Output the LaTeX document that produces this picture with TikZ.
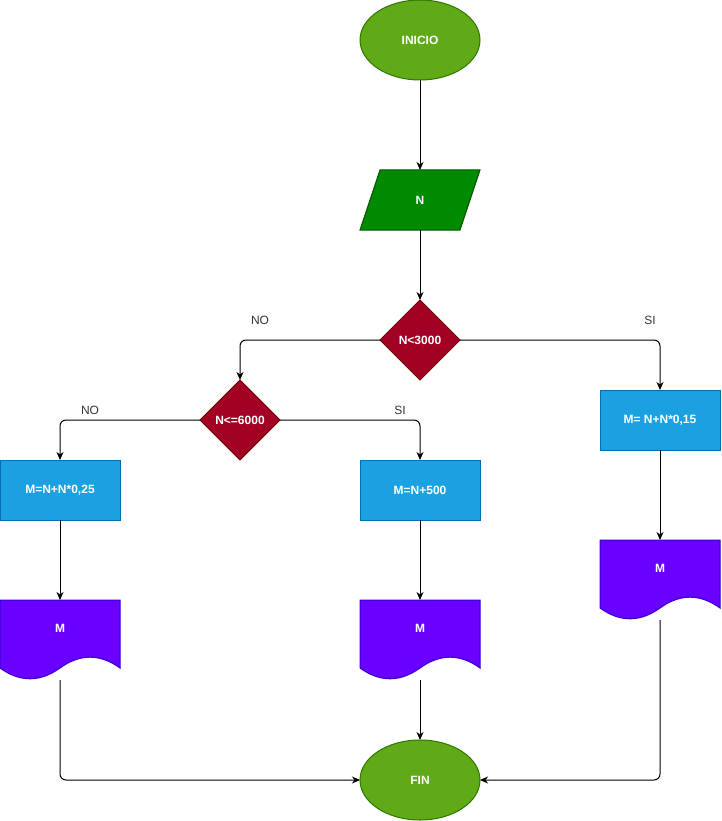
\documentclass[tikz,border=0pt]{standalone}
\usepackage{fontspec}
\setmainfont{Liberation Sans}
\usetikzlibrary{shapes.geometric,arrows.meta}
\definecolor{gfill}{HTML}{60A917}\definecolor{gline}{HTML}{2D7600}
\definecolor{pfill}{HTML}{008A00}\definecolor{pline}{HTML}{005700}
\definecolor{rfill}{HTML}{A20025}\definecolor{rline}{HTML}{6F0000}
\definecolor{bfill}{HTML}{1BA1E2}\definecolor{bline}{HTML}{006EAF}
\definecolor{vfill}{HTML}{6A00FF}\definecolor{vline}{HTML}{3700CC}
\definecolor{lbl}{HTML}{333333}
\tikzset{
  base/.style={inner sep=0pt,outer sep=0pt,line width=1pt,text=white,font=\fontsize{12}{14}\selectfont\bfseries},
  term/.style={base,ellipse,draw=gline,fill=gfill,minimum width=120pt,minimum height=80pt},
  io/.style={base,rectangle,minimum width=120pt,minimum height=60pt},
  dec/.style={base,diamond,draw=rline,fill=rfill,minimum width=80pt,minimum height=80pt},
  proc/.style={base,rectangle,draw=bline,fill=bfill,minimum width=120pt,minimum height=60pt},
  docn/.style={base,rectangle,minimum width=120pt,minimum height=80pt},
  doctext/.style={base},
  arr/.style={line width=1pt,-{Stealth[length=8pt,width=7pt,inset=2.5pt]},rounded corners=6pt},
  elbl/.style={text=lbl,font=\fontsize{12}{14}\selectfont,inner sep=0pt},
}
\newcommand{\docshape}[1]{%
  \fill[vfill,draw=vline,line width=1pt]
    (#1.north west) -- (#1.north east) -- ([yshift=12pt]#1.south east)
    .. controls ([xshift=-20pt,yshift=26.4pt]#1.south east) and ([xshift=20pt,yshift=26.4pt]#1.south) .. ([yshift=12pt]#1.south)
    .. controls ([xshift=-20pt,yshift=-2.4pt]#1.south) and ([xshift=20pt,yshift=-2.4pt]#1.south west) .. ([yshift=12pt]#1.south west) -- cycle;}
\begin{document}
\begin{tikzpicture}[x=1pt,y=-1pt]
\useasboundingbox (0,0) rectangle (721,821);
\node[term] (ini) at (420,40) {INICIO};
\node[io] (n) at (420,200) {};
\fill[pfill,draw=pline,line width=1pt] (380,170) -- (480,170) -- (460,230) -- (360,230) -- cycle;
\node[base] (nt) at (420,200) {N};
\node[dec] (c1) at (420,340) {N<3000};
\node[dec] (c2) at (240,420) {N<=6000};
\node[proc] (b1) at (60,490) {M=N+N*0,25};
\node[proc] (b2) at (420,490) {M=N+500};
\node[proc] (b3) at (660,420) {M= N+N*0,15};
\node[docn] (o1) at (60,640) {};
\node[docn] (o2) at (420,640) {};
\node[docn] (o3) at (660,580) {};
\docshape{o1}\docshape{o2}\docshape{o3}
\node[doctext] (o1t) at (60,628) {M};
\node[doctext] (o2t) at (420,628) {M};
\node[doctext] (o3t) at (660,568) {M};
\node[term] (fin) at (420,780) {FIN};
\draw[arr] (ini) -- (n);
\draw[arr] (n) -- (c1);
\draw[arr] (c1.west) -| (c2.north);
\draw[arr] (c1.east) -| (b3.north);
\draw[arr] (c2.west) -| (b1.north);
\draw[arr] (c2.east) -| (b2.north);
\draw[arr] (b1) -- (o1);
\draw[arr] (b2) -- (o2);
\draw[arr] (b3) -- (o3);
\draw[arr] (o2.south) -- (fin.north);
\draw[arr] (o1.south) |- (fin.west);
\draw[arr] (o3.south) |- (fin.east);
\node[elbl] (l1) at (260,320) {NO};
\node[elbl] (l2) at (650,320) {SI};
\node[elbl] (l3) at (90,410) {NO};
\node[elbl] (l4) at (400,410) {SI};
\end{tikzpicture}
\end{document}
